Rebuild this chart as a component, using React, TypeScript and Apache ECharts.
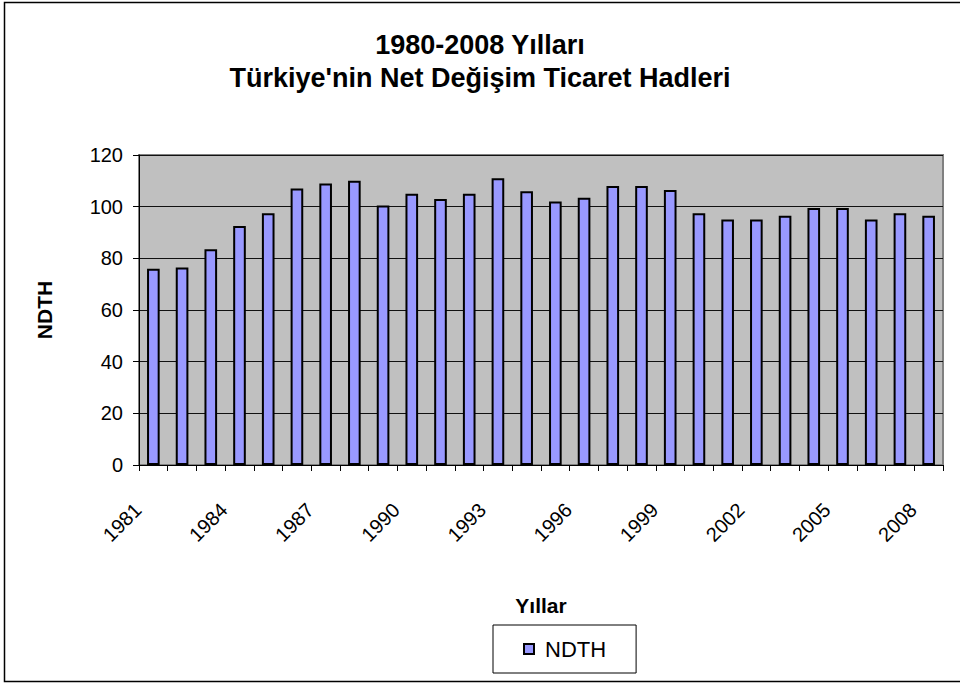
import React, { useEffect, useRef } from "react";
import * as echarts from "echarts";

const years: string[] = [
  "1981", "1982", "1983", "1984", "1985", "1986", "1987", "1988", "1989", "1990",
  "1991", "1992", "1993", "1994", "1995", "1996", "1997", "1998", "1999", "2000",
  "2001", "2002", "2003", "2004", "2005", "2006", "2007", "2008",
];
const ndth: number[] = [
  76, 76.5, 83.5, 92.5, 97.5, 107, 109, 110, 100.5, 105,
  103, 105, 111, 106, 102, 103.5, 108, 108, 106.5, 97.5,
  95, 95, 96.5, 99.5, 99.5, 95, 97.5, 96.5,
];
const titleLines: string[] = ["1980-2008 Yılları", "Türkiye'nin Net Değişim Ticaret Hadleri"];
const seriesName = "NDTH";
const xName = "Yıllar";
const yName = "NDTH";

const FONT = "'Liberation Sans', Arial, sans-serif";

export default function App() {
  const ref = useRef<HTMLDivElement>(null);
  useEffect(() => {
    if (!ref.current) return;
    const chart = echarts.init(ref.current, undefined, { renderer: "svg" });
    chart.setOption({
      animation: false,
      backgroundColor: "#ffffff",
      textStyle: { fontFamily: FONT, color: "#000" },
      title: {
        text: titleLines.join("\n"),
        left: "center",
        top: 28,
        padding: [0, 0, 0, 8],
        textStyle: { fontFamily: FONT, fontSize: 27, fontWeight: "bold", color: "#000", lineHeight: 33 },
      },
      graphic: [
        {
          type: "rect",
          shape: { x: 4.5, y: 2.5, width: 980, height: 679 },
          style: { fill: "none", stroke: "#000", lineWidth: 1.5 },
          silent: true,
          z: 100,
        },
      ],
      legend: {
        data: [seriesName],
        left: 493,
        top: 625,
        orient: "horizontal",
        padding: [13, 30, 13, 30],
        borderColor: "#000",
        borderWidth: 1,
        icon: "rect",
        itemWidth: 10,
        itemHeight: 10,
        textStyle: { fontFamily: FONT, fontSize: 22, color: "#000", padding: [0, 0, 0, 6] },
      },
      grid: {
        left: 139,
        top: 155,
        width: 804,
        height: 310,
        show: true,
        backgroundColor: "#C0C0C0",
        borderColor: "#808080",
        borderWidth: 2,
      },
      xAxis: {
        type: "category",
        data: years,
        name: xName,
        nameLocation: "middle",
        nameGap: 130,
        nameTextStyle: { fontFamily: FONT, fontSize: 21, fontWeight: "bold", color: "#000" },
        axisLine: { show: true, lineStyle: { color: "#000", width: 1 } },
        axisTick: { show: true, interval: 0, length: 6, alignWithLabel: false, lineStyle: { color: "#000" } },
        axisLabel: {
          interval: 2,
          rotate: 45,
          margin: 26,
          fontSize: 20,
          color: "#000",
          fontFamily: FONT,
          padding: [0, 22, 0, 0],
        },
        splitLine: { show: false },
      },
      yAxis: {
        type: "value",
        min: 0,
        max: 120,
        interval: 20,
        name: yName,
        nameLocation: "middle",
        nameGap: 84,
        nameTextStyle: { fontFamily: FONT, fontSize: 21, fontWeight: "bold", color: "#000" },
        axisLine: { show: true, lineStyle: { color: "#000", width: 1 } },
        axisTick: { show: true, length: 6, lineStyle: { color: "#000" } },
        axisLabel: { margin: 16, fontSize: 20, color: "#000", fontFamily: FONT },
        splitLine: { show: true, lineStyle: { color: "#111", width: 1 } },
      },
      series: [
        {
          name: seriesName,
          type: "bar",
          data: ndth,
          barWidth: "44%",
          itemStyle: { color: "#9999FF", borderColor: "#000", borderWidth: 2 },
        },
      ],
    });
    return () => chart.dispose();
  }, []);
  return (
    <div
      ref={ref}
      style={{ position: "absolute", left: 0, top: 0, width: 960, height: 684 }}
    />
  );
}
